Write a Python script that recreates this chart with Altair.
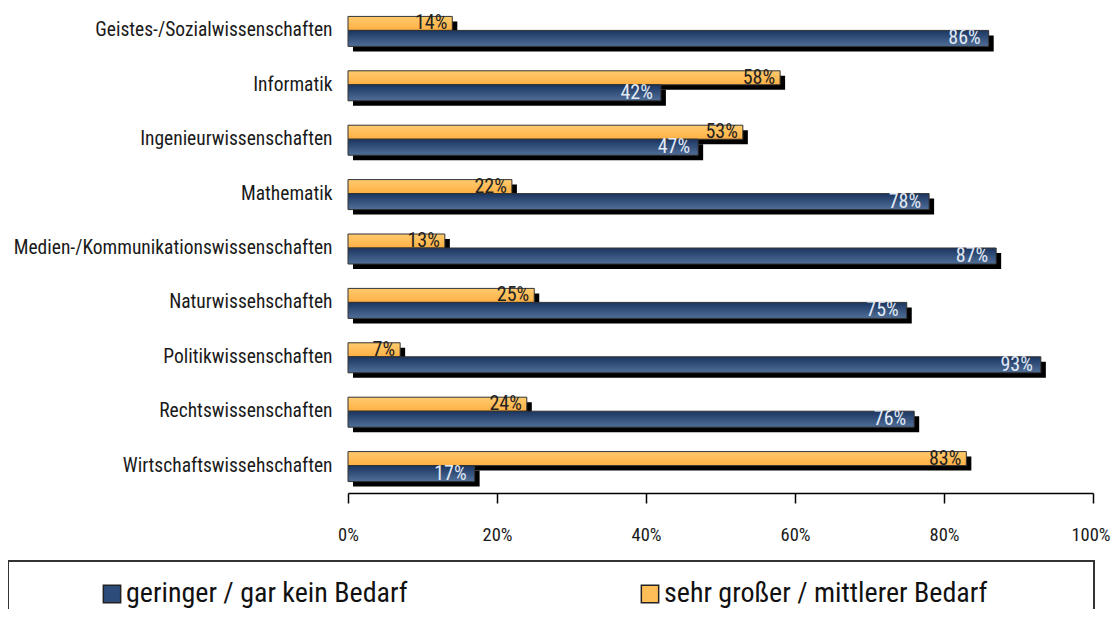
import altair as alt
import pandas as pd

categories = [
    "Geistes-/Sozialwissenschaften",
    "Informatik",
    "Ingenieurwissenschaften",
    "Mathematik",
    "Medien-/Kommunikationswissenschaften",
    "Naturwissehschafteh",
    "Politikwissenschaften",
    "Rechtswissenschaften",
    "Wirtschaftswissehschaften",
]
gering = [86, 42, 47, 78, 87, 75, 93, 76, 17]
gross = [14, 58, 53, 22, 13, 25, 7, 24, 83]
S_GER = "geringer / gar kein Bedarf"
S_GRO = "sehr großer / mittlerer Bedarf"
ticks = [0, 0.2, 0.4, 0.6, 0.8, 1.0]

rows = []
for c, a, b in zip(categories, gering, gross):
    rows.append({"cat": c, "series": S_GER, "pct": a / 100})
    rows.append({"cat": c, "series": S_GRO, "pct": b / 100})
df = pd.DataFrame(rows)

F = "Liberation Sans Narrow, Arial Narrow, Roboto Condensed, DejaVu Sans Condensed, sans-serif"

blue_grad = alt.Gradient(gradient="linear", x1=0, x2=0, y1=0, y2=1,
                         stops=[alt.GradientStop(color="#1A3560", offset=0),
                                alt.GradientStop(color="#506F98", offset=1)])
orange_grad = alt.Gradient(gradient="linear", x1=0, x2=0, y1=0, y2=1,
                           stops=[alt.GradientStop(color="#FFCB6E", offset=0),
                                  alt.GradientStop(color="#FFB044", offset=1)])

Y = alt.Y("cat:N", sort=categories,
          scale=alt.Scale(paddingInner=0.4, paddingOuter=0.112),
          axis=alt.Axis(title=None, domain=False, ticks=False, labelFontSize=19.5,
                        labelFont=F, labelColor="#1a1a1a", labelPadding=16, labelLimit=500))
X = alt.X("pct:Q", scale=alt.Scale(domain=[0, 1], nice=False),
          axis=alt.Axis(format=".0%", values=ticks, title=None, grid=False,
                        domainColor="black", domainWidth=1.5, tickColor="black",
                        tickSize=10, tickWidth=1.5, labelFontSize=18.5, labelFont=F,
                        labelColor="#1a1a1a", labelPadding=22, labelFlush=False, offset=5,
                        labelAlign={"condition": {"test": "datum.value == 1", "value": "right"},
                                    "value": "center"},
                        labelOffset={"condition": {"test": "datum.value == 1", "value": 17},
                                     "value": 0}))

base = alt.Chart(df).encode(y=Y, x=X)
gro = base.transform_filter(alt.datum.series == S_GRO)
ger = base.transform_filter(alt.datum.series == S_GER)

sh_gro = gro.mark_bar(color="black", height=14, yOffset=-2, xOffset=5, x2Offset=5)
sh_ger = ger.mark_bar(color="black", height=16, yOffset=13, xOffset=5, x2Offset=5)
bar_gro = gro.mark_bar(color=orange_grad, height=14, yOffset=-7, stroke="#333", strokeWidth=1)
bar_ger = ger.mark_bar(color=blue_grad, height=16, yOffset=8, stroke="#333", strokeWidth=1)
txt_gro = gro.mark_text(align="right", baseline="middle", dx=-5, yOffset=-7,
                        fontSize=20, font=F, color="#222").encode(text=alt.Text("pct:Q", format=".0%"))
txt_ger = ger.mark_text(align="right", baseline="middle", dx=-8, yOffset=8,
                        fontSize=20, font=F, color="#E2EAF6").encode(text=alt.Text("pct:Q", format=".0%"))

leg = base.mark_square(size=0).encode(
    color=alt.Color("series:N",
                    scale=alt.Scale(domain=[S_GER, S_GRO], range=["#2E4C7A", "#FFBE58"]),
                    legend=alt.Legend(orient="none", legendX=-340, legendY=553,
                                      direction="horizontal", title=" ", titleOrient="right",
                                      titlePadding=88, titleFontSize=28,
                                      symbolType="square", symbolSize=300,
                                      symbolStrokeColor="#222", symbolStrokeWidth=1.5,
                                      symbolOpacity=1, symbolOffset=71, labelOffset=0,
                                      labelFontSize=28, labelFont=F, labelColor="#111",
                                      labelLimit=800,
                                      columnPadding=157, padding=19, strokeColor="#333"))
)

chart = alt.layer(sh_gro, sh_ger, bar_gro, bar_ger, txt_gro, txt_ger, leg).properties(
    width=745, height=480, background="white",
    autosize=alt.AutoSizeParams(type="none"),
    padding={"left": 340, "top": 0, "right": 18, "bottom": 121},
).configure_view(strokeWidth=0, stroke="transparent").configure_legend(strokeWidth=2)

chart.save("out.html", embed_options={"renderer": "svg", "actions": False})
